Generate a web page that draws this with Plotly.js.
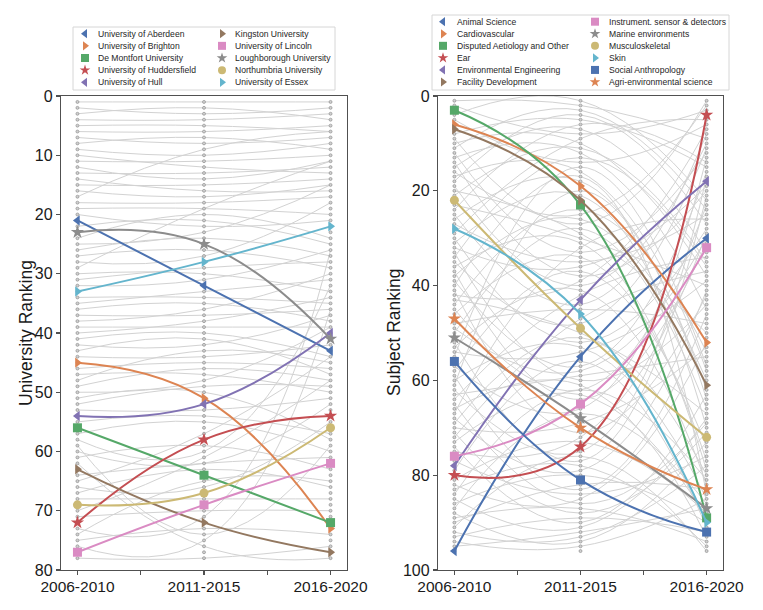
<!DOCTYPE html>
<html>
<head>
<meta charset="utf-8">
<script src="https://cdn.plot.ly/plotly-3.0.1.min.js"></script>
<style>html,body{margin:0;padding:0;background:#fff}#chart{width:763px;height:610px}</style>
</head>
<body>
<div id="chart"></div>
<script>
var periods = ['2006-2010', '2011-2015', '2016-2020'];

// highlighted universities
var uniNames = ['University of Aberdeen', 'University of Brighton', 'De Montfort University',
  'University of Huddersfield', 'University of Hull', 'Kingston University', 'University of Lincoln',
  'Loughborough University', 'Northumbria University', 'University of Essex'];
var uniFirst = [21, 45, 56, 72, 54, 63, 77, 23, 69, 33];
var uniSecond = [32, 51, 64, 58, 52, 72, 69, 25, 67, 28];
var uniThird = [43, 73, 72, 54, 40, 77, 62, 41, 56, 22];
var uniSymbols = ['triangle-left', 'triangle-right', 'square', 'star', 'triangle-left',
  'triangle-right', 'square', 'star', 'circle', 'triangle-right'];

// highlighted subjects
var subjNames = ['Animal Science', 'Cardiovascular', 'Disputed Aetiology and Other', 'Ear',
  'Environmental Engineering', 'Facility Development', 'Instrument. sensor & detectors',
  'Marine environments', 'Musculoskeletal', 'Skin', 'Social Anthropology', 'Agri-environmental science'];
var subjFirst = [96, 6, 3, 80, 78, 7, 76, 51, 22, 28, 56, 47];
var subjSecond = [55, 19, 23, 74, 43, 22, 65, 68, 49, 46, 81, 70];
var subjThird = [30, 52, 89, 4, 18, 61, 32, 87, 72, 90, 92, 83];
var subjSymbols = ['triangle-left', 'triangle-right', 'square', 'star', 'triangle-left',
  'triangle-right', 'square', 'star', 'circle', 'triangle-right', 'square', 'star'];

var palette = ['#4C72B0', '#DD8452', '#55A868', '#C44E52', '#8172B3',
  '#937860', '#DA8BC3', '#8C8C8C', '#CCB974', '#64B5CD'];

// all other universities (grey)
var uniGreyFirst = [1,2,3,4,5,6,7,8,9,10,11,12,13,14,15,16,17,18,19,20,
  22,24,25,26,27,28,29,30,31,32,34,35,36,37,38,39,40,41,42,43,44,
  46,47,48,49,50,51,52,53,55,57,58,59,60,61,62,64,65,66,67,68,70,71,73,74,75,76,78];
var uniGreySecond = [1,3,2,4,5,6,8,7,10,12,11,14,13,16,15,17,9,18,19,22,
  21,20,23,24,26,27,19,30,29,31,34,33,35,37,36,39,38,40,42,41,44,
  45,47,43,46,48,50,49,53,54,55,60,74,62,59,76,62,57,66,63,68,61,70,71,65,73,75,78];
var uniGreyThird = [1,2,4,3,6,5,7,9,8,13,10,11,12,16,14,15,6,17,20,21,
  25,24,15,27,29,18,11,33,28,26,35,31,38,36,30,39,34,44,37,47,42,
  46,50,45,48,39,58,49,51,57,60,32,59,52,63,78,61,44,55,66,68,48,70,26,65,74,36,76];
var uniCount = 78;

// all other subjects (grey)
var subjGreyFirst = [1,2,4,5,8,9,10,11,12,13,14,15,16,17,18,19,20,21,23,24,25,26,27,
  29,30,31,32,33,34,35,36,37,38,39,40,41,42,43,44,45,46,48,49,50,52,53,54,55,
  57,58,59,60,61,62,63,64,65,66,67,68,69,70,71,72,73,74,75,77,79,
  81,82,83,84,85,86,87,88,89,90,91,92,93,94,95];
var subjGreySecond = [2,8,1,14,5,27,10,3,33,12,38,7,25,16,4,40,29,11,30,6,44,18,35,
  9,52,21,36,60,13,48,31,64,26,57,17,71,39,50,24,62,34,45,58,28,77,41,54,15,
  66,37,83,53,20,75,59,42,86,61,32,79,51,69,88,47,63,90,72,84,56,
  73,85,78,62,91,80,67,94,87,82,76,93,89,95,92];
var subjGreyThird = [9,3,22,6,15,1,38,24,12,45,20,33,2,58,27,10,50,35,40,14,8,64,25,
  5,28,70,19,44,36,11,79,31,60,16,84,42,7,67,54,23,77,48,30,66,21,82,39,57,
  13,74,46,85,62,17,55,34,69,93,26,41,80,53,71,37,89,63,29,76,91,
  88,52,95,81,68,90,86,73,94,83,96,78,92,85,87];
var subjCount = 96;

var W = 763, H = 610, ML = 61, MR = 40, MB = 40;
var plotW = W - ML - MR, plotH = H - MB;
function px2x(px) { return (px - ML) / plotW; }
function px2y(py) { return (plotH - py) / plotH; }

var traces = [];

function greyLines(a, b, c, xa, ya) {
  var xs = [], ys = [];
  for (var i = 0; i < a.length; i++) {
    xs.push(0, 1, 2, null);
    ys.push(a[i], b[i], c[i], null);
  }
  return {x: xs, y: ys, xaxis: xa, yaxis: ya, mode: 'lines', showlegend: false, hoverinfo: 'skip',
    line: {color: '#d2d2d2', width: 1, shape: 'spline', smoothing: 1.3}};
}

function dotColumns(n, xa, ya) {
  var xs = [], ys = [];
  for (var p = 0; p < periods.length; p++) {
    for (var r = 1; r <= n; r++) { xs.push(p); ys.push(r); }
  }
  return {x: xs, y: ys, xaxis: xa, yaxis: ya, mode: 'markers', showlegend: false, hoverinfo: 'skip',
    marker: {size: 3, color: '#d0d0d0', line: {color: '#858585', width: 0.6}}};
}

function highlight(names, a, b, c, symbols, xa, ya) {
  for (var i = 0; i < names.length; i++) {
    var sym = symbols[i];
    traces.push({
      x: [0, 1, 2], y: [a[i], b[i], c[i]], xaxis: xa, yaxis: ya, name: names[i],
      mode: 'lines+markers', showlegend: false,
      line: {color: palette[i % 10], width: 2, shape: 'spline', smoothing: 1.3},
      marker: {symbol: sym, size: sym === 'star' ? 10 : 9, color: palette[i % 10]}
    });
  }
}

traces.push(greyLines(uniGreyFirst, uniGreySecond, uniGreyThird, 'x', 'y'));
traces.push(dotColumns(uniCount, 'x', 'y'));
highlight(uniNames, uniFirst, uniSecond, uniThird, uniSymbols, 'x', 'y');

traces.push(greyLines(subjGreyFirst, subjGreySecond, subjGreyThird, 'x2', 'y2'));
traces.push(dotColumns(subjCount, 'x2', 'y2'));
highlight(subjNames, subjFirst, subjSecond, subjThird, subjSymbols, 'x2', 'y2');

// custom two-column legends (positions in px of the top strip)
var shapes = [], annotations = [];
function legendBlock(names, symbols, box, symX, textX, rowY, rowH) {
  shapes.push({type: 'rect', xref: 'paper', yref: 'paper', layer: 'below',
    x0: px2x(box[0]), x1: px2x(box[2]), y0: px2y(box[3]), y1: px2y(box[1]),
    line: {color: '#d6d6d6', width: 1}, fillcolor: '#ffffff'});
  var lx = [], ly = [], ls = [], lc = [];
  var rows = Math.ceil(names.length / 2);
  for (var i = 0; i < names.length; i++) {
    var col = Math.floor(i / rows), row = i % rows;
    var y = rowY + row * rowH;
    lx.push(symX[col]); ly.push(y); ls.push(symbols[i]); lc.push(palette[i % 10]);
    annotations.push({xref: 'x3', yref: 'y3', x: textX[col], y: y, text: names[i],
      xanchor: 'left', yanchor: 'middle', showarrow: false,
      font: {size: 8.6, color: '#262626'}});
  }
  traces.push({x: lx, y: ly, xaxis: 'x3', yaxis: 'y3', mode: 'markers', showlegend: false,
    hoverinfo: 'skip', cliponaxis: false,
    marker: {symbol: ls, color: lc, size: 8}});
}
legendBlock(uniNames, uniSymbols, [73, 27, 335, 90], [85, 222], [96, 233], 33.7, 12.15);
legendBlock(subjNames, subjSymbols, [432, 15, 729, 90], [443, 595], [455, 607], 21.7, 12.06);

// y axis titles placed beside the tick labels
function yTitle(text, px) {
  annotations.push({xref: 'paper', yref: 'paper', x: px2x(px), y: px2y(333), text: text,
    textangle: -90, xanchor: 'center', yanchor: 'middle', showarrow: false,
    font: {size: 17.5, color: '#1a1a1a'}});
}
yTitle('University Ranking', 26);
yTitle('Subject Ranking', 394);

var axisBase = {showline: true, mirror: true, linecolor: '#505050', linewidth: 1.2,
  ticks: 'outside', ticklen: 4, tickwidth: 1.2, tickcolor: '#505050',
  showgrid: false, zeroline: false, fixedrange: true};
var plotTop = (plotH - 96) / plotH;

function xAxis(domain, anchor) {
  return Object.assign({}, axisBase, {domain: domain, anchor: anchor, range: [-0.13, 2.13],
    tickmode: 'array', tickvals: [0, 0.5, 1, 1.5, 2],
    ticktext: [periods[0], '', periods[1], '', periods[2]],
    ticklabelstandoff: -2,
    tickfont: {size: 15.5, color: '#1a1a1a'}});
}
function yAxis(maxRank, step, anchor) {
  var vals = [];
  for (var v = 0; v <= maxRank; v += step) vals.push(v);
  return Object.assign({}, axisBase, {domain: [0, plotTop], anchor: anchor, range: [maxRank, 0],
    tickmode: 'array', tickvals: vals, tickfont: {size: 16, color: '#1a1a1a'}});
}

var layout = {
  width: W, height: H,
  margin: {l: ML, r: MR, t: 0, b: MB},
  paper_bgcolor: '#ffffff', plot_bgcolor: 'rgba(0,0,0,0)',
  font: {family: 'Liberation Sans, Arial, sans-serif', color: '#262626'},
  showlegend: false,
  xaxis: xAxis([0, px2x(347)], 'y'),
  yaxis: yAxis(80, 10, 'x'),
  xaxis2: xAxis([px2x(438), 1], 'y2'),
  yaxis2: yAxis(100, 20, 'x2'),
  xaxis3: {domain: [0, 1], range: [ML, W - MR], visible: false, fixedrange: true, anchor: 'y3'},
  yaxis3: {domain: [px2y(92), 1], range: [92, 0], visible: false, fixedrange: true, anchor: 'x3'},
  shapes: shapes,
  annotations: annotations
};

Plotly.newPlot('chart', traces, layout, {displayModeBar: false, staticPlot: true});
</script>
</body>
</html>
